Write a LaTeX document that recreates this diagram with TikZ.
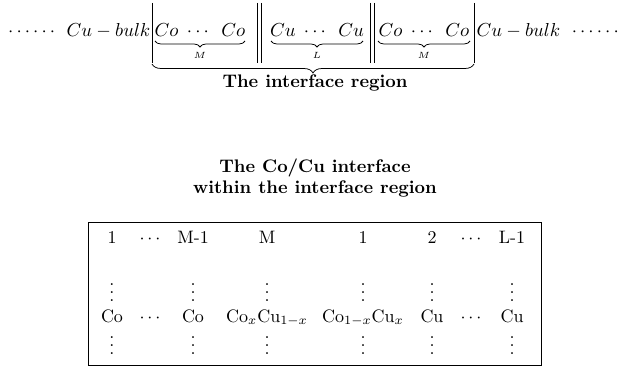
\documentclass[tikz,border=0pt]{standalone}
\usepackage{graphicx}
\usetikzlibrary{decorations.pathreplacing}

% everything is typeset at 10pt and enlarged, keeping the weight of the 10pt design
\newcommand\enl[1]{\scalebox{1.8}{#1}}
\newcommand\enltop[1]{\scalebox{1.88}{#1}}
% evenly spaced block: Co ... Co style
\newcommand\blockof[1]{$#1\mkern5mu\cdots\mkern9mu #1$}
% vertical ellipsis without the empty space above the dots
\newcommand\colddots{\vbox{\baselineskip=4.4pt\lineskiplimit=0pt\hbox{.}\hbox{.}\hbox{.}}}

\tikzset{
  txt/.style={inner sep=0pt, anchor=base, font=\fontsize{10}{12}\selectfont},
  head/.style={txt, font=\fontsize{10}{12}\selectfont\bfseries},
  bar/.style={line width=1pt},
  ubrace/.style={decorate, line width=0.75pt,
    decoration={brace, mirror, amplitude=#1}},
  frame/.style={line width=1pt}
}

\begin{document}
\begin{tikzpicture}[x=1pt,y=-1pt]
\useasboundingbox (0,0) rectangle (621,369);

% ---- the layered chain ----
\node[txt, anchor=base west] (lbulk) at (8,37) {\enltop{$\cdots\cdots\;\, Cu-bulk$}};
\node[txt] (coA) at (200,37) {\enltop{\blockof{Co}}};
\node[txt] (cuB) at (317,37) {\enltop{\blockof{Cu}}};
\node[txt] (coC) at (424,37) {\enltop{\blockof{Co}}};
\node[txt, anchor=base east] (rbulk) at (619,37) {\enltop{$Cu-bulk\;\, \cdots\cdots$}};

% outer bars and double bars
\draw[bar] (152,3) -- (152,63);
\draw[bar] (257,3) -- (257,63);
\draw[bar] (261,3) -- (261,63);
\draw[bar] (370,3) -- (370,63);
\draw[bar] (374,3) -- (374,63);
\draw[bar] (474,3) -- (474,63);

% braces under each block
\draw[ubrace=6pt] (155,41) -- (245,41);
\draw[ubrace=6pt] (271,41) -- (363,41);
\draw[ubrace=6pt] (378,41) -- (470,41);
\node[txt] (labM1) at (200,59) {\enl{$\scriptscriptstyle M$}};
\node[txt] (labL)  at (317,59) {\enl{$\scriptscriptstyle L$}};
\node[txt] (labM2) at (424,59) {\enl{$\scriptscriptstyle M$}};

% brace around the whole interface region
\draw[ubrace=9pt] (152,64) -- (474,64);
\node[head] (region) at (315,87) {\scalebox{1.82}{The interface region}};

% ---- caption of the lower panel ----
\node[head] (capA) at (315,172) {\scalebox{1.82}{The Co/Cu interface}};
\node[head] (capB) at (315,193) {\scalebox{1.82}{within the interface region}};

% ---- framed table of layers ----
\draw[frame] (88,222) rectangle (541,365);

% layer indices
\node[txt] (i1)  at (112,243) {\enl{1}};
\node[txt] (i2)  at (150,243) {\enl{$\cdots$}};
\node[txt] (i3)  at (193,243) {\enl{M-1}};
\node[txt] (i4)  at (267,243) {\enl{M}};
\node[txt] (i5)  at (363,243) {\enl{1}};
\node[txt] (i6)  at (432,243) {\enl{2}};
\node[txt] (i7)  at (471,243) {\enl{$\cdots$}};
\node[txt] (i8)  at (512,243) {\enl{L-1}};

% upper and lower continuation dots
\foreach \x [count=\k] in {112,193,267,363,432,512}{
  \node[txt] (up\k) at (\x,301) {\enl{\colddots}};
  \node[txt] (dn\k) at (\x,354) {\enl{\colddots}};
}

% layer compositions
\node[txt] (c1) at (112,322) {\enl{Co}};
\node[txt] (c2) at (150,322) {\enl{$\cdots$}};
\node[txt] (c3) at (193,322) {\enl{Co}};
\node[txt] (c4) at (267,322) {\enl{Co$_x$Cu$_{1-x}$}};
\node[txt] (c5) at (363,322) {\enl{Co$_{1-x}$Cu$_x$}};
\node[txt] (c6) at (432,322) {\enl{Cu}};
\node[txt] (c7) at (471,322) {\enl{$\cdots$}};
\node[txt] (c8) at (512,322) {\enl{Cu}};
\end{tikzpicture}
\end{document}
